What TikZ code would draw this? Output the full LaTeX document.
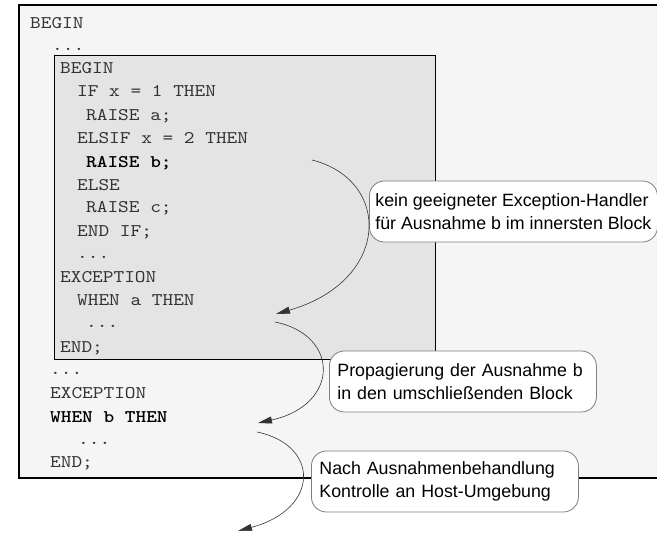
\documentclass[tikz,border=0pt]{standalone}
\usepackage{fontspec}
\setmainfont{Liberation Sans}
\newfontfamily\codefont{lmmono10-regular.otf}[BoldFont=lmmonolt10-bold.otf, FakeStretch=1.143]
\usetikzlibrary{arrows.meta}
\definecolor{outerfill}{HTML}{F5F5F5}
\definecolor{innerfill}{HTML}{E4E4E4}
\definecolor{bubbleline}{HTML}{7F7F7F}
\begin{document}
\begin{tikzpicture}[x=1pt,y=-1pt,
  code/.style={anchor=base west, inner sep=0pt, font=\codefont\fontsize{17.8}{20}\selectfont, text=black!80},
  codeb/.style={anchor=base west, inner sep=0pt, font=\codefont\bfseries\fontsize{17.8}{20}\selectfont, text=black},
  bubble/.style={draw=bubbleline, fill=white, rounded corners=15pt, line width=0.8pt, anchor=west,
    align=left, inner xsep=7pt, inner ysep=0pt, minimum height=61pt, font=\fontsize{17.8}{22.7}\selectfont},
  flow/.style={draw=black!80, line width=0.6pt, -{Triangle[length=14pt,width=7pt]}}
]
\useasboundingbox (0,0) rectangle (657,533);
% outer block
\fill[outerfill] (19,5) rectangle (657,478);
\draw[line width=1.4pt] (657,5) -- (19,5) -- (19,478) -- (657,478);
% inner block
\draw[fill=innerfill, line width=1pt] (54,55) rectangle (435,359);

% code lines
\node[code] (l1) at (30,28) {BEGIN};
\node[code] (l2) at (52,50) {...};
\node[code] (l3) at (60,73) {BEGIN};
\node[code] (l4) at (77,96) {IF x = 1 THEN};
\node[code] (l5) at (86,120) {RAISE a;};
\node[code] (l6) at (77,143) {ELSIF x = 2 THEN};
\node[codeb] (l7) at (86,167) {RAISE b;};
\node[code] (l8) at (77,190) {ELSE};
\node[code] (l9) at (86,212) {RAISE c;};
\node[code] (l10) at (77,236) {END IF;};
\node[code] (l11) at (77,258) {...};
\node[code] (l12) at (60,282) {EXCEPTION};
\node[code] (l13) at (77,305) {WHEN a THEN};
\node[code] (l14) at (86,327) {...};
\node[code] (l15) at (60,352) {END;};
\node[code] (l16) at (50,374) {...};
\node[code] (l17) at (50,398) {EXCEPTION};
\node[codeb] (l18) at (50,422) {WHEN b THEN};
\node[code] (l19) at (78,444) {...};
\node[code] (l20) at (50,467) {END;};

% bubbles
\node[bubble, inner xsep=6pt] (b1) at (369,211.5) {kein geeigneter Exception-Handler\\für Ausnahme b im innersten Block};
\node[bubble, text width=251pt, inner xsep=8pt] (b2) at (329,381.5) {Propagierung der Ausnahme b\\in den umschließenden Block};
\node[bubble, text width=251pt, inner xsep=8pt] (b3) at (311,481.5) {Nach Ausnahmenbehandlung\\Kontrolle an Host-Umgebung};

% arrows
\coordinate (a1s) at (312,160);
\coordinate (a1e) at (276,314);
\coordinate (a2s) at (275,322);
\coordinate (a2e) at (258,423);
\coordinate (a3s) at (257,432);
\coordinate (a3e) at (238,531);
\draw[flow] (a1s) .. controls (392,180) and (391,281) .. (a1e);
\draw[flow] (a2s) .. controls (340,335) and (340,405) .. (a2e);
\draw[flow] (a3s) .. controls (320,445) and (320,509) .. (a3e);
\end{tikzpicture}
\end{document}
